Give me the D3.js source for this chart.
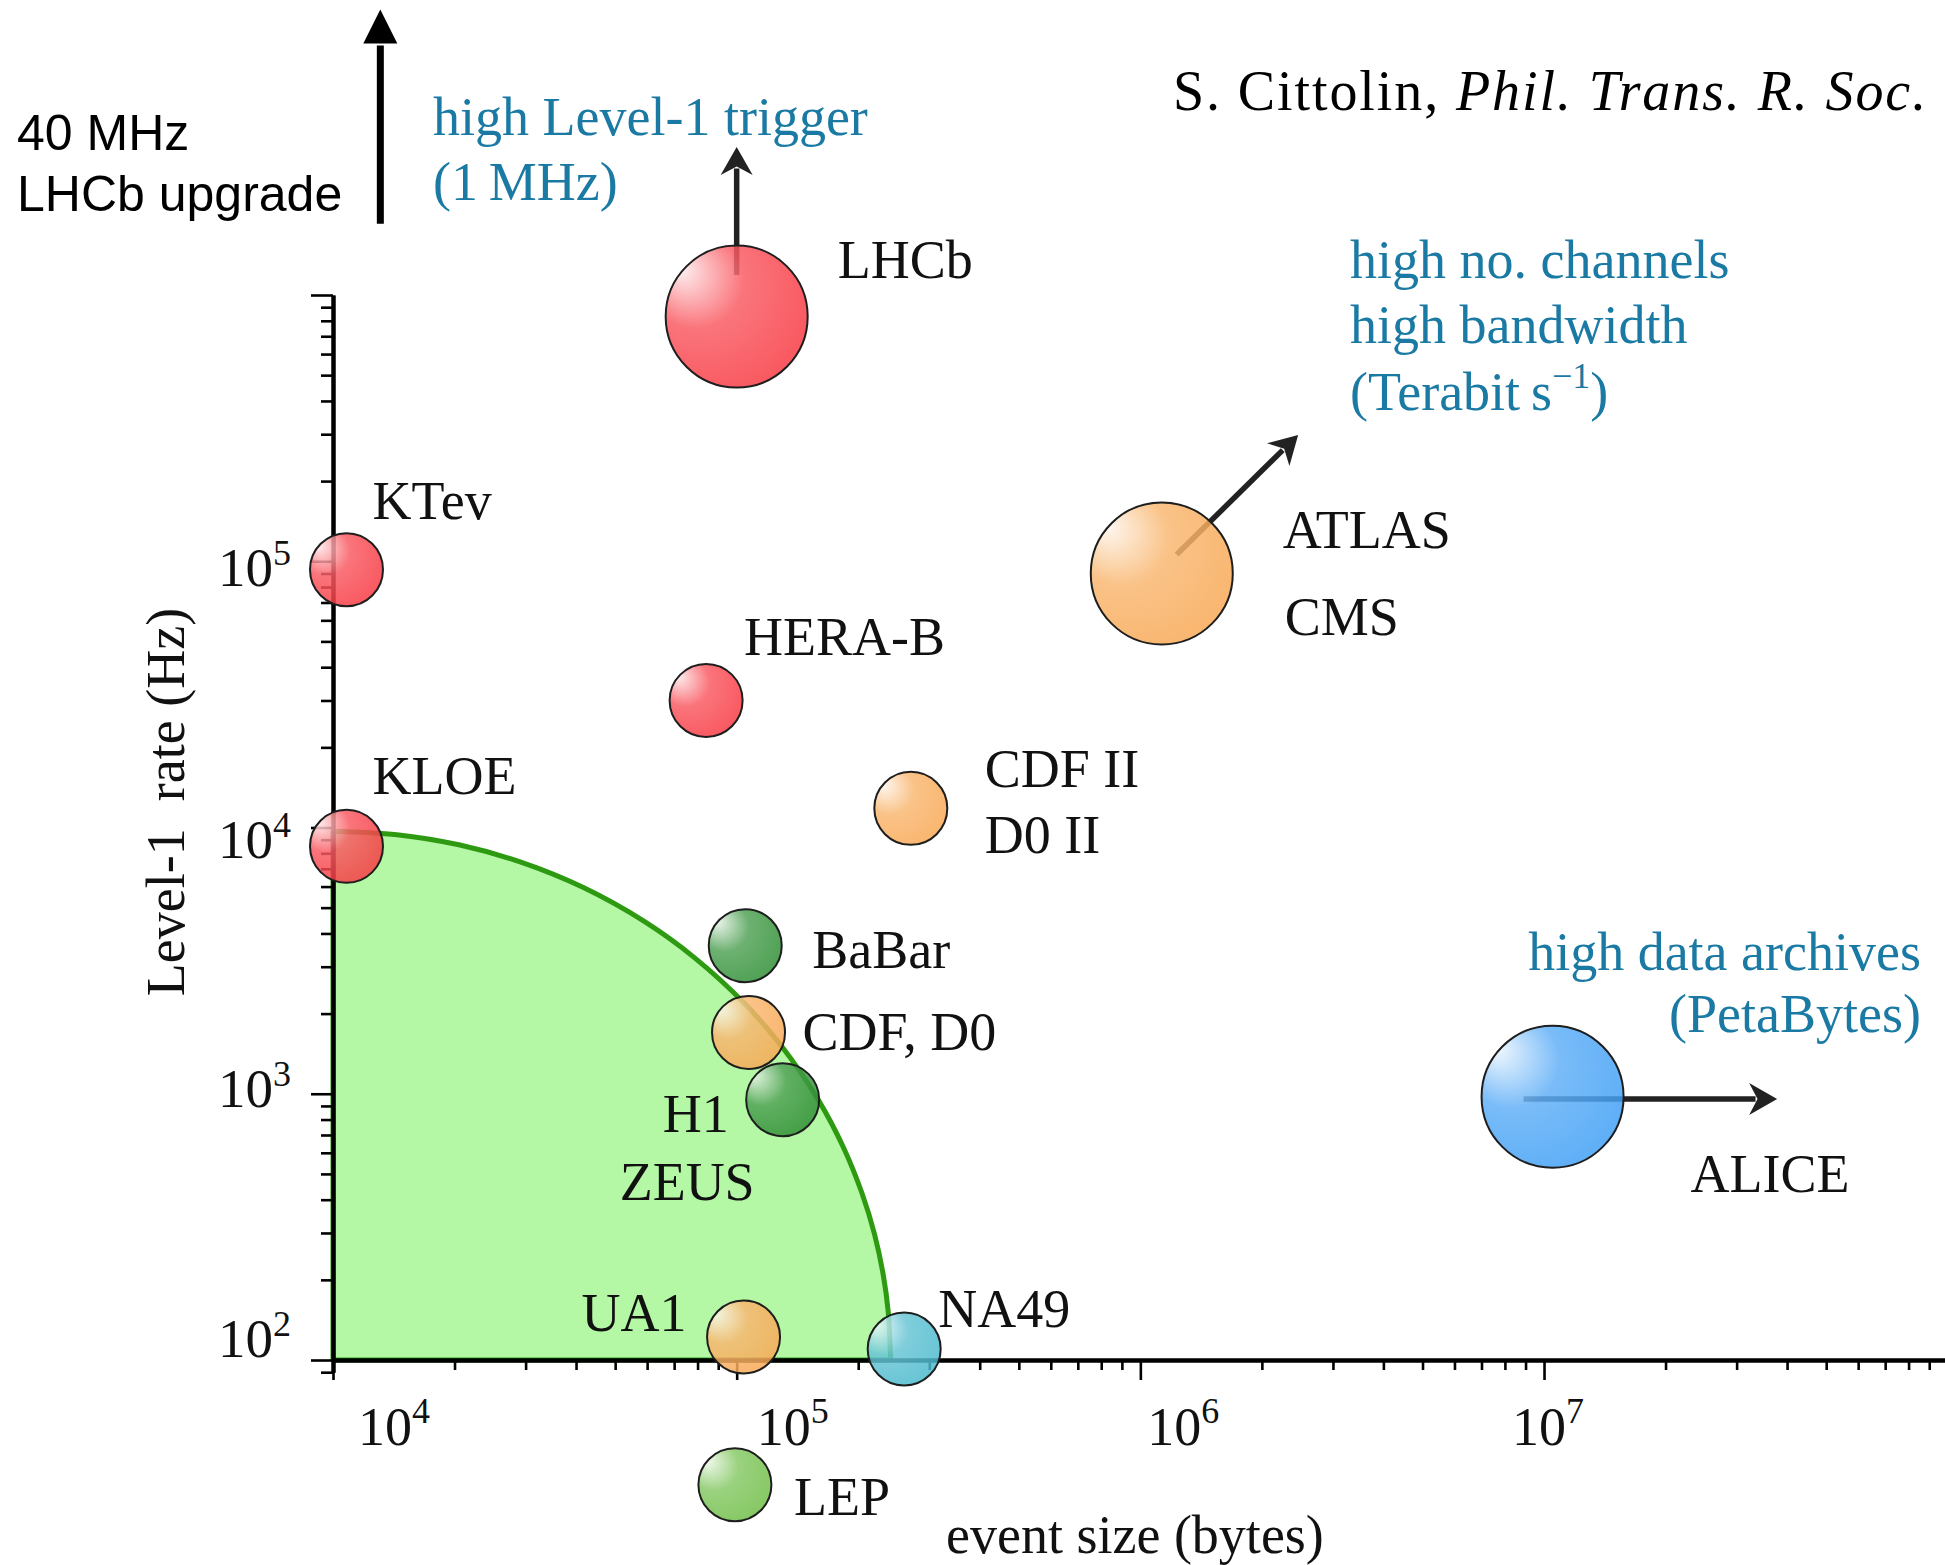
<!DOCTYPE html>
<html><head><meta charset="utf-8">
<script src="https://cdn.jsdelivr.net/npm/d3@7"></script>
<style>
html,body{margin:0;padding:0;background:#fff;}
svg{display:block;}
text{font-family:"Liberation Serif","Times New Roman",serif;}
</style></head><body>
<svg id="chart" width="1945" height="1565"></svg>
<script>
// ---------------- DATA ----------------
const experiments = ["LHCb","KTev","KLOE","HERA-B","ATLAS/CMS","CDF II/D0 II","BaBar","CDF, D0","H1/ZEUS","UA1","NA49","LEP","ALICE"];
const eventSize  = [1.0e5, 1.08e4, 1.08e4, 8.4e4, 1.13e6, 2.7e5, 1.05e5, 1.07e5, 1.3e5, 1.04e5, 2.6e5, 9.9e4, 1.05e7];
const level1Rate = [8.3e5, 9.3e4, 8.5e3, 3.0e4, 9.0e4, 1.18e4, 3.6e3, 1.7e3, 950, 122, 110, 34, 975];
const bubbleColour = ["red","red","red","red","orange","orange","darkgreen","orange","darkgreen","orange","cyan","lightgreen","blue"];
const bubbleClass  = ["large","small","small","small","large","small","small","small","small","small","small","small","large"];
const labelLines = [["LHCb"],["KTev"],["KLOE"],["HERA-B"],["ATLAS","CMS"],["CDF II","D0 II"],["BaBar"],["CDF, D0"],["H1","ZEUS"],["UA1"],["NA49"],["LEP"],["ALICE"]];

// boundary of the shaded (green) region: event size vs Level-1 rate
const boundarySize = [1e4, 1.44e4, 2.05e4, 2.92e4, 4.16e4, 5.93e4, 7.87e4, 1.044e5, 1.291e5, 1.597e5, 1.84e5, 2.045e5, 2.195e5, 2.307e5, 2.372e5, 2.406e5];
const boundaryRate = [9690, 9400, 8610, 7410, 5960, 4420, 3240, 2190, 1510, 942, 627, 422, 297, 209, 153, 100];

// direction arrows (start / end, data units)
const arrowStart = [[1.0e5, 1.19e6], [1.23e6, 1.06e5], [8.9e6, 955]];
const arrowEnd   = [[1.0e5, 3.6e6],  [2.46e6, 2.98e5], [3.78e7, 955]];
const upgradeArrow = [[1.31e4, 1.85e6], [1.31e4, 1.18e7]];

const xTickExps = [4, 5, 6, 7];
const yTickExps = [2, 3, 4, 5];

// ---------------- LAYOUT / STYLE ----------------
const W = 1945, H = 1565;
const palette = {red:"#f8363f", orange:"#f8a752", darkgreen:"#2b8d31", lightgreen:"#6dbd44", cyan:"#47b8cc", blue:"#3d9ef5"};
const radius = d3.scaleOrdinal().domain(["small","large"]).range([36.5, 71]);
const labelOffsets = [[[101,-39]],[[26,-51]],[[26,-52]],[[38,-45]],[[121,-25],[123,62]],[[74,-21],[74,45]],[[67,22]],[[54,18]],[[-120,32],[-163,100]],[[-162,-6]],[[34,-22]],[[59,30]],[[138,95]]];
const xLabelNudge = {4:25, 5:20, 6:7, 7:-32};
const yLabelNudge = {2:-3, 3:13, 4:30, 5:25};
const teal = "#1a7aa3";

const svg = d3.select("#chart");
svg.append("rect").attr("width", W).attr("height", H).attr("fill", "#fff");

const x = d3.scaleLog().domain([1e4, 1e8]).range([333, 1947.7]);
const y = d3.scaleLog().domain([1e2, 1e6]).range([1360, 295]);

// gradients
const defs = svg.append("defs");
Object.entries(palette).forEach(([k, c]) => {
  const g = defs.append("radialGradient").attr("id", "g-" + k)
    .attr("cx", "35%").attr("cy", "35%").attr("r", "75%").attr("fx", "10%").attr("fy", "16%");
  g.append("stop").attr("offset", "0%").attr("stop-color", d3.interpolateRgb(c, "#fff")(0.92));
  g.append("stop").attr("offset", "45%").attr("stop-color", d3.interpolateRgb(c, "#fff")(0.18));
  g.append("stop").attr("offset", "100%").attr("stop-color", c);
});

// green region
const boundary = boundarySize.map((s, i) => [s, boundaryRate[i]]);
const line = d3.line().x(d => x(d[0])).y(d => y(d[1])).curve(d3.curveCatmullRom);
svg.append("path")
  .attr("d", line(boundary) + `L${x(1e4)},${y(100)}Z`)
  .attr("fill", "#b4f7a4").attr("stroke", "#2e9a12").attr("stroke-width", 5)
  .attr("stroke-linejoin", "round");

// axes
const isMajor = v => Math.abs(Math.log10(v) - Math.round(Math.log10(v))) < 1e-9;
const xTicks = x.ticks();
const gx = svg.append("g").attr("transform", `translate(0,${y(100)})`);
gx.append("g").call(d3.axisBottom(x).tickValues(xTicks.filter(v => !isMajor(v))).tickSize(10).tickSizeOuter(0).tickFormat(""));
gx.append("g").call(d3.axisBottom(x).tickValues(xTicks.filter(isMajor)).tickSize(20).tickSizeOuter(0).tickFormat(""));
const yAx = d3.scaleLog().domain([90, 1e6]).range([y(90), y(1e6)]);
const yTicks = yAx.ticks();
const gy = svg.append("g").attr("transform", `translate(${x(1e4)},0)`);
gy.append("g").call(d3.axisLeft(yAx).tickValues(yTicks.filter(v => !isMajor(v))).tickSize(12).tickSizeOuter(0).tickFormat(""));
gy.append("g").call(d3.axisLeft(yAx).tickValues(yTicks.filter(isMajor)).tickSize(22).tickSizeOuter(0).tickFormat(""));
svg.selectAll(".domain").attr("stroke", "#000").attr("stroke-width", 4);
svg.selectAll(".tick line").attr("stroke", "#000").attr("stroke-width", 2.6);

// tick labels
xTickExps.forEach(e => {
  const t = svg.append("text").attr("x", x(Math.pow(10, e)) + xLabelNudge[e]).attr("y", 1445)
    .attr("font-size", 54).attr("fill", "#111");
  t.append("tspan").text("10");
  t.append("tspan").attr("dy", -22).attr("font-size", 36).text(e);
});
yTickExps.forEach(e => {
  const t = svg.append("text").attr("x", 291).attr("y", y(Math.pow(10, e)) + yLabelNudge[e])
    .attr("text-anchor", "end").attr("font-size", 55).attr("fill", "#111");
  t.append("tspan").text("10");
  t.append("tspan").attr("dy", -21).attr("font-size", 36).text(e);
});

// axis titles
svg.append("text").attr("x", 946).attr("y", 1553).attr("font-size", 54).attr("fill", "#111").text("event size (bytes)");
svg.append("text").attr("transform", "translate(184,802) rotate(-90)").attr("text-anchor", "middle")
  .attr("font-size", 54).attr("fill", "#111").style("white-space", "pre").text("Level-1  rate (Hz)");

// arrows
function arrow(p0, p1, width, headL, headW, notch, colour) {
  const ax = x(p0[0]), ay = y(p0[1]), bx = x(p1[0]), by = y(p1[1]);
  const ang = Math.atan2(by - ay, bx - ax);
  const len = Math.hypot(bx - ax, by - ay);
  const g = svg.append("g").attr("transform", `translate(${ax},${ay}) rotate(${ang * 180 / Math.PI})`);
  g.append("line").attr("x1", 0).attr("y1", 0).attr("x2", len - headL * notch - 2).attr("y2", 0)
    .attr("stroke", colour).attr("stroke-width", width);
  g.append("path")
    .attr("d", `M${len},0L${len - headL},${-headW / 2}L${len - headL * notch},0L${len - headL},${headW / 2}Z`)
    .attr("fill", colour);
}
arrow(upgradeArrow[0], upgradeArrow[1], 7, 34, 34, 1.0, "#000");
arrowStart.forEach((s, i) => arrow(s, arrowEnd[i], 5.5, 28, 32, 0.7, "#222"));

// bubbles
const idx = d3.range(experiments.length);
svg.append("g").selectAll("circle").data(idx).join("circle")
  .attr("cx", i => x(eventSize[i])).attr("cy", i => y(level1Rate[i]))
  .attr("r", i => radius(bubbleClass[i]))
  .attr("fill", i => `url(#g-${bubbleColour[i]})`).attr("fill-opacity", 0.84)
  .attr("stroke", "#1e1e1e").attr("stroke-width", 2);

// bubble labels
idx.forEach(i => {
  labelLines[i].forEach((txt, j) => {
    const o = labelOffsets[i][j];
    svg.append("text").attr("x", x(eventSize[i]) + o[0]).attr("y", y(level1Rate[i]) + o[1])
      .attr("font-size", 54).attr("fill", "#111").text(txt);
  });
});

// annotations
const sans = "'Liberation Sans', Arial, Helvetica, sans-serif";
svg.append("text").attr("x", 17).attr("y", 150).attr("font-size", 50).style("font-family", sans).attr("fill", "#000").text("40 MHz");
svg.append("text").attr("x", 17).attr("y", 211).attr("font-size", 50).style("font-family", sans).attr("fill", "#000").text("LHCb upgrade");

svg.append("text").attr("x", 433).attr("y", 135).attr("font-size", 54).attr("fill", teal).text("high Level-1 trigger");
svg.append("text").attr("x", 433).attr("y", 200).attr("font-size", 54).attr("fill", teal).text("(1\u2009MHz)");

svg.append("text").attr("x", 1350).attr("y", 278).attr("font-size", 54).attr("fill", teal).text("high no. channels");
svg.append("text").attr("x", 1350).attr("y", 343).attr("font-size", 54).attr("fill", teal).text("high bandwidth");
const tb = svg.append("text").attr("x", 1350).attr("y", 410).attr("font-size", 54).attr("fill", teal);
tb.append("tspan").text("(Terabit\u2009s");
tb.append("tspan").attr("dy", -22).attr("font-size", 36).text("\u22121");
tb.append("tspan").attr("dy", 22).text(")");

svg.append("text").attr("x", 1921).attr("y", 970).attr("text-anchor", "end").attr("font-size", 54).attr("fill", teal).text("high data archives");
svg.append("text").attr("x", 1921).attr("y", 1032).attr("text-anchor", "end").attr("font-size", 54).attr("fill", teal).text("(PetaBytes)");

const cit = svg.append("text").attr("x", 1173).attr("y", 110).attr("font-size", 56).attr("fill", "#000").attr("letter-spacing", 1.9);
cit.append("tspan").text("S. Cittolin, ");
cit.append("tspan").attr("font-style", "italic").text("Phil. Trans. R. Soc.");
</script></body></html>
